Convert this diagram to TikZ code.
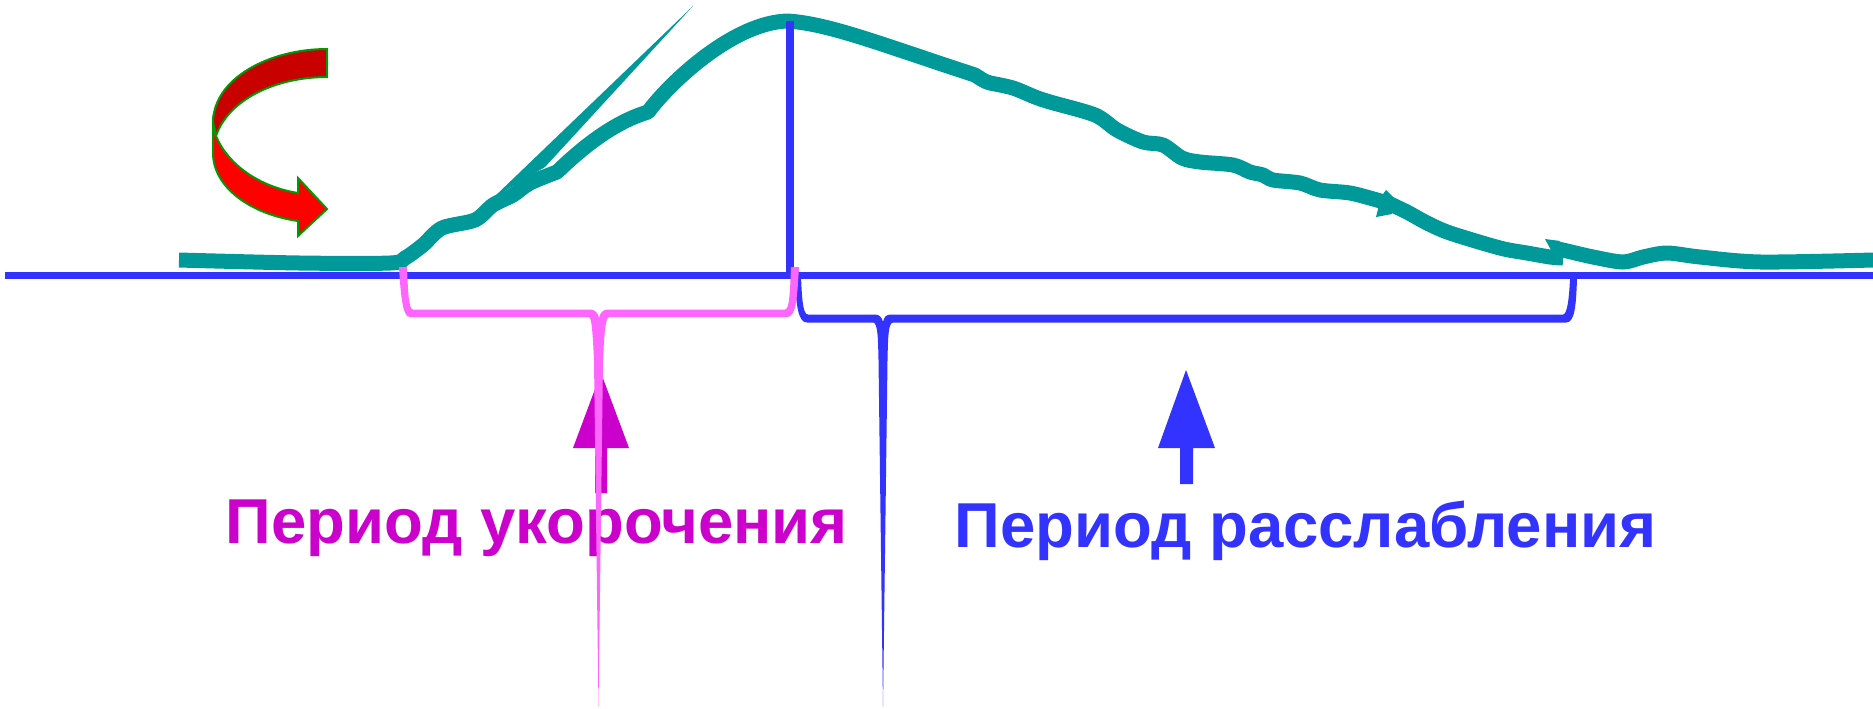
\documentclass[tikz,border=0pt]{standalone}
\usepackage{fontspec}
\setmainfont{Liberation Sans}
\usepackage{xcolor}
\definecolor{curveTeal}{HTML}{009999}
\definecolor{axisBlue}{HTML}{3333FF}
\definecolor{shortPink}{HTML}{FF66FF}
\definecolor{shortMagenta}{HTML}{CC00CC}
\definecolor{rotRed}{HTML}{FF0000}
\definecolor{rotDark}{HTML}{C80000}
\definecolor{rotEdge}{HTML}{009900}
\tikzset{
    curveLine/.style={draw=curveTeal,line width=0.15cm,line join=round},
    axisLine/.style={draw=axisBlue,line width=0.076cm},
    rotPart/.style={draw=rotEdge,line width=0.02cm,line join=miter},
    periodLabel/.style={anchor=base west,inner sep=0pt,font=\fontsize{18.05}{20}\selectfont\bfseries}
}

\begin{document}
\begin{tikzpicture}[x=0.01cm,y=-0.01cm]
  % Picture frame, in pixels of the reference
  \path[use as bounding box] (0,0) rectangle (1873,708);

  % Curved arrow
  \draw[rotPart,fill=rotDark] (327,49) .. controls (270,49) and (213,78) .. (213,123)
    -- (216,136) .. controls (228,100) and (275,77) .. (327,77) -- cycle;
  \draw[rotPart,fill=rotRed] (216,136) .. controls (228,165) and (260,187) .. (298,193)
    -- (298,178) -- (327,209) -- (298,236) -- (298,221)
    .. controls (250,214) and (213,187) .. (213,153) -- (213,123) -- cycle;

  % Tension curve, up to the first notch
  \draw[curveLine] plot[smooth,tension=0.5] coordinates {
    (179,260) (300,263) (390,263) (405,258) (423,245) (442,228) (475,220) (493,205)
    (513,195) (530,183) (557,172)}
    .. controls (585,145) and (615,122) .. (648,112)
    .. controls (672,80) and (735,22) .. (788,21)
    .. controls (830,24) and (880,44) .. (975,75)
    .. controls (980,78) and (983,81) .. (990,83)
    -- plot[smooth,tension=0.5] coordinates {
    (990,83) (1013,88) (1035,97) (1050,102) (1095,115) (1117,130) (1143,142) (1163,145)
    (1182,158) (1200,162) (1233,165) (1250,172) (1263,175) (1273,180) (1300,183)
    (1320,190) (1350,193) (1377,200) (1390,204)};

  % Tension curve, to the second notch
  \draw[curveLine] plot[smooth,tension=0.5] coordinates {
    (1388,203) (1407,212) (1427,223) (1450,233) (1500,248) (1527,253) (1550,257) (1563,258)};

  % Tension curve, tail
  \draw[curveLine] plot[smooth,tension=0.5] coordinates {
    (1554,248) (1567,251) (1593,257) (1623,262) (1643,257) (1667,253) (1700,257) (1761,262) (1873,260)};

  % Thin spike and small notches of the curve
  \fill[curveTeal] (693,6) -- (493,198) -- (545,167) -- cycle;
  \fill[curveTeal] (1386,190) -- (1381,197) -- (1376,217) -- (1392,214) -- (1396,200) -- cycle;
  \fill[curveTeal] (1545,239) -- (1552,252) -- (1560,241) -- cycle;

  % Axis and peak line
  \draw[axisLine] (5,275.6) -- (1873,275.6);
  \draw[axisLine,line width=0.08cm] (790,21) -- (790,275);

  % Arrow and text of the first period
  \fill[shortMagenta] (601,373) -- (629,448) -- (607,448) -- (607,493)
    -- (595,493) -- (595,448) -- (573,448) -- cycle;
  \node[periodLabel,text=shortMagenta] (shortText) at (225,543) {Период укорочения};

  % Brace of the second period
  \fill[axisBlue] (801,277) .. controls (802,300) and (803,314.5) .. (808,314.5)
    -- (875,314.5) .. controls (879,314.5) and (882,317) .. (883,322)
    .. controls (884,317) and (886,314.5) .. (891,314.5) -- (1563,314.5)
    .. controls (1567,314.5) and (1569,300) .. (1570,279) -- (1577,279)
    .. controls (1576,305) and (1575,322.5) .. (1566,322.5) -- (893,322.5)
    .. controls (888,322.5) and (888,340) .. (887.5,360) -- (883,707) -- (878.5,360)
    .. controls (878,340) and (878,322.5) .. (873,322.5) -- (807,322.5)
    .. controls (798,322.5) and (796,305) .. (795,277) -- cycle;
  \node[periodLabel,text=axisBlue] (relaxText) at (954,547) {Период расслабления};

  % Arrow of the second period
  \fill[axisBlue] (1186,370) -- (1215,448) -- (1193,448) -- (1193,484)
    -- (1180,484) -- (1180,448) -- (1158,448) -- cycle;

  % Brace of the first period
  \fill[shortPink] (399,267) -- (407,267) .. controls (408,295) and (409,309.5) .. (413,309.5)
    -- (590,309.5) .. controls (595,309.5) and (598,313) .. (599,318)
    .. controls (600,313) and (603,309.5) .. (608,309.5) -- (785,309.5)
    .. controls (789,309.5) and (790,295) .. (791,267) -- (799,267)
    .. controls (797,300) and (796,317) .. (787,317) -- (609,317)
    .. controls (605,317) and (604,340) .. (603,360) -- (598.5,707) -- (594,360)
    .. controls (593,340) and (592,317) .. (589,317) -- (410,317)
    .. controls (403,317) and (401,300) .. (399,267) -- cycle;
\end{tikzpicture}
\end{document}
